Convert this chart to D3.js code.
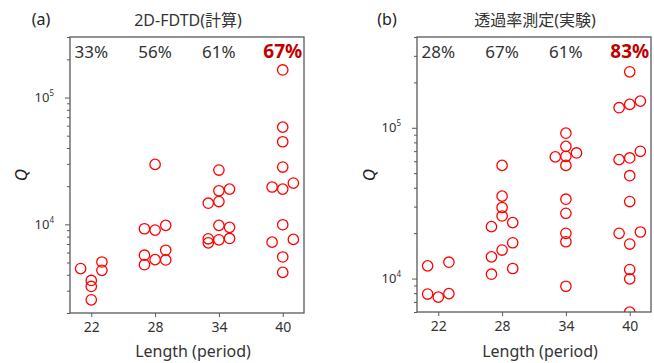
<!doctype html>
<html lang="ja">
<head>
    <meta charset="utf-8"/>
    <title>Q vs length</title>
    <script src="https://d3js.org/d3.v7.min.js"></script>
    <style>
        body {
            margin: 0;
            padding: 0;
            background: white;
        }

        svg text {
            font-family: "Noto Sans", "Noto Sans CJK JP", sans-serif;
        }
    </style>
</head>
<body>
<script>

    // categorias del eje x
    const categories = [22, 28, 34, 40]

    // porcentajes arriba de cada grupo
    const fdtdRate = ["33%", "56%", "61%", "67%"]
    const measRate = ["28%", "67%", "61%", "83%"]

    // (a) 2D-FDTD: [periodo (con desplazamiento), Q]
    const fdtdPoints = [
        [21, 4480], [22, 3610], [22, 3240], [22, 2540], [23, 5050], [23, 4340],
        [27, 9230], [27, 5710], [27, 4810], [28, 29700], [28, 9010], [28, 5270],
        [29, 9820], [29, 6250], [29, 5240],
        [33, 14680], [33, 7690], [33, 7150], [34, 26800], [34, 18400], [34, 15120],
        [34, 9820], [34, 7550], [35, 18960], [35, 9470], [35, 7740],
        [40, 164900], [40, 58400], [40, 44800], [40, 28300], [39, 19700], [40, 18960],
        [41, 21150], [40, 9930], [39, 7240], [41, 7610], [40, 5530], [40, 4180]
    ]

    // (b) medición de transmitancia
    const measPoints = [
        [21, 12140], [21, 7890], [22, 7530], [23, 12840], [23, 7940],
        [27, 22090], [27, 13930], [27, 10690], [28, 56300], [28, 35200], [28, 29600],
        [28, 26000], [28, 15450], [29, 23500], [29, 17270], [29, 11660],
        [33, 64100], [34, 92100], [34, 75300], [34, 64700], [34, 56300], [35, 68100],
        [34, 33600], [34, 27100], [34, 19950], [34, 17540], [34, 8890],
        [40, 235000], [39, 135900], [40, 142900], [41, 150300], [41, 69800], [39, 61500],
        [40, 63100], [40, 48100], [40, 32400], [39, 19950], [41, 20360], [40, 16930],
        [40, 11480], [40, 9950], [40, 5990]
    ]

    const width = 654
    const height = 363

    const svg = d3.select("body")
        .append("svg")
        .attr("width", width)
        .attr("height", height)

    const axisColor = "#595959"
    const textColor = "#333333"

    // dibuja un panel completo
    function drawPanel(opt) {
        const g = svg.append("g")

        const x = d3.scaleLinear().domain([20, 42]).range([opt.left, opt.right])
        const y = d3.scaleLog().domain(opt.yDomain).range([opt.bottom, opt.top])

        // ticks menores (2..9 por década)
        const minor = []
        const majors = []
        for (let e = 3; e <= 5; e++) {
            for (let m = 1; m <= 9; m++) {
                const v = m * Math.pow(10, e)
                if (v >= opt.yDomain[0] && v <= opt.yDomain[1]) {
                    if (m === 1) majors.push(v)
                    else minor.push(v)
                }
            }
        }

        g.append("g")
            .attr("transform", "translate(" + opt.left + ",0)")
            .call(d3.axisLeft(y).tickValues(minor).tickSize(3).tickFormat(""))
            .call(s => s.select(".domain").remove())
            .selectAll("line").attr("stroke", axisColor)

        const major = g.append("g")
            .attr("transform", "translate(" + opt.left + ",0)")
            .call(d3.axisLeft(y).tickValues(majors).tickSize(5).tickPadding(11).tickFormat(""))
        major.select(".domain").remove()
        major.selectAll("line").attr("stroke", axisColor)
        major.selectAll(".tick text")
            .attr("font-size", 13)
            .attr("fill", textColor)
            .each(function (d) {
                const t = d3.select(this)
                t.append("tspan").text("10")
                t.append("tspan")
                    .text(Math.round(Math.log10(d)))
                    .attr("font-size", 8)
                    .attr("dy", -6)
            })

        // eje x
        const xa = g.append("g")
            .attr("transform", "translate(0," + opt.bottom + ")")
            .call(d3.axisBottom(x).tickValues(categories).tickSize(4).tickPadding(5))
        xa.select(".domain").remove()
        xa.selectAll("line").attr("stroke", axisColor)
        xa.selectAll("text")
            .attr("font-size", 14)
            .attr("fill", textColor)

        // marco
        g.append("rect")
            .attr("x", opt.left)
            .attr("y", opt.top)
            .attr("width", opt.right - opt.left)
            .attr("height", opt.bottom - opt.top)
            .attr("fill", "none")
            .attr("stroke", axisColor)
            .attr("stroke-width", 1.3)

        // recorte para los círculos
        svg.append("clipPath")
            .attr("id", opt.id)
            .append("rect")
            .attr("x", opt.left)
            .attr("y", opt.top)
            .attr("width", opt.right - opt.left)
            .attr("height", opt.bottom - opt.top)

        g.append("g")
            .attr("clip-path", "url(#" + opt.id + ")")
            .selectAll("circle")
            .data(opt.points)
            .enter()
            .append("circle")
            .attr("cx", d => x(d[0]))
            .attr("cy", d => y(d[1]))
            .attr("r", 5.2)
            .attr("fill", "none")
            .attr("stroke", "#ff0000")
            .attr("stroke-width", 1.3)

        // porcentajes (el último en negrita y rojo)
        g.selectAll(".rate")
            .data(opt.rates)
            .enter()
            .append("text")
            .attr("x", (d, i) => x(categories[i]))
            .attr("y", 57.5)
            .attr("text-anchor", "middle")
            .attr("font-size", (d, i) => i === 3 ? 19 : 17)
            .attr("font-weight", (d, i) => i === 3 ? "bold" : "normal")
            .attr("fill", (d, i) => i === 3 ? "#c00000" : textColor)
            .text(d => d)

        // títulos
        g.append("text")
            .attr("x", opt.titleX)
            .attr("y", 26)
            .attr("text-anchor", "middle")
            .attr("font-size", 16)
            .attr("fill", textColor)
            .text(opt.title)

        g.append("text")
            .attr("x", opt.tagX)
            .attr("y", 25)
            .attr("text-anchor", "middle")
            .attr("font-size", 16)
            .attr("fill", "#222")
            .text(opt.tag)

        g.append("text")
            .attr("transform", "translate(" + opt.qX + ",175) rotate(-90)")
            .attr("text-anchor", "middle")
            .attr("font-size", 17)
            .attr("font-style", "italic")
            .attr("fill", "#222")
            .text("Q")

        g.append("text")
            .attr("x", opt.xLabelX)
            .attr("y", 357)
            .attr("text-anchor", "middle")
            .attr("font-size", 16)
            .attr("fill", textColor)
            .text("Length (period)")
    }

    drawPanel({
        id: "clipA", left: 70, right: 304, top: 37, bottom: 313,
        yDomain: [2000, 3e5], points: fdtdPoints, rates: fdtdRate,
        title: "2D-FDTD(計算)", titleX: 188, tag: "(a)", tagX: 41,
        qX: 27, xLabelX: 193
    })

    drawPanel({
        id: "clipB", left: 417, right: 651, top: 37, bottom: 312,
        yDomain: [6000, 4e5], points: measPoints, rates: measRate,
        title: "透過率測定(実験)", titleX: 535, tag: "(b)", tagX: 387,
        qX: 375, xLabelX: 540
    })

</script>
</body>
</html>
